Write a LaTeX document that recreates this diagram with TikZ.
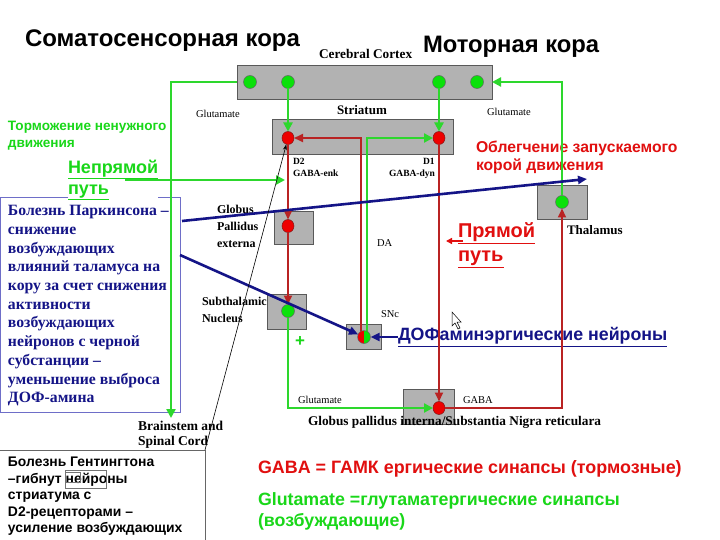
\documentclass[tikz,border=0pt]{standalone}
\usepackage{fontspec}
\setmainfont{Liberation Sans}
\newfontfamily\serifX{Liberation Serif}
\usetikzlibrary{arrows.meta,shapes.geometric}
\definecolor{gbox}{RGB}{178,178,178}
\definecolor{gln}{RGB}{45,215,45}
\definecolor{gdot}{RGB}{10,225,10}
\definecolor{rln}{RGB}{185,35,35}
\definecolor{rdot}{RGB}{238,0,0}
\definecolor{rtxt}{RGB}{225,15,15}
\definecolor{gtxt}{RGB}{25,215,25}
\definecolor{navy}{RGB}{20,20,135}
\definecolor{pbox}{RGB}{110,110,200}
\tikzset{
  every node/.style={inner sep=0pt, outer sep=0pt},
  grbox/.style={draw=black!65, line width=0.6pt, fill=gbox},
  gdotst/.style={circle, minimum size=13pt, fill=gdot, draw=black!60, line width=0.5pt},
  rdotst/.style={ellipse, minimum width=12pt, minimum height=13pt, fill=rdot, draw=rln!70!black, line width=0.5pt},
  gline/.style={draw=gln, line width=2.6pt, -{Triangle[length=9pt,width=9pt]}},
  rline/.style={draw=rln, line width=2pt, -{Triangle[length=9pt,width=8pt]}},
  bline/.style={draw=navy, line width=2.6pt, -{Triangle[length=9pt,width=8pt]}},
  slab/.style={font=\serifX\bfseries\fontsize{13}{15}\selectfont, anchor=base west},
  tlab/.style={font=\serifX\fontsize{10.5}{12}\selectfont, anchor=base west},
  dlab/.style={font=\serifX\bfseries\fontsize{9.5}{11}\selectfont, anchor=base west},
}
\begin{document}
\begin{tikzpicture}[x=1pt,y=-1pt]
\useasboundingbox (0,0) rectangle (720,540);
\fill[white] (0,0) rectangle (720,540);

% ---------- titles
\node[font=\bfseries\fontsize{24}{28}\selectfont, anchor=base west] (t1) at (25,47) {Соматосенсорная кора};
\node[font=\bfseries\fontsize{23.8}{28}\selectfont, anchor=base west] (t2) at (423,53) {Моторная кора};

% ---------- grey boxes
\node[grbox, minimum width=255pt, minimum height=34pt] (ctxB) at (364.5,82) {};
\node[grbox, minimum width=181pt, minimum height=35pt] (strB) at (362.5,136.5) {};
\node[grbox, minimum width=39pt, minimum height=33pt] (gpeB) at (293.5,227.5) {};
\node[grbox, minimum width=39pt, minimum height=35pt] (stnB) at (286.5,311.5) {};
\node[grbox, minimum width=35pt, minimum height=25pt] (sncB) at (363.5,336.5) {};
\node[grbox, minimum width=51pt, minimum height=35pt] (gpiB) at (428.5,406.5) {};
\node[grbox, minimum width=50pt, minimum height=34pt] (thB) at (562,202) {};

% ---------- small labels
\node[slab, font=\serifX\bfseries\fontsize{13.3}{15}\selectfont] (lctx) at (319,59) {Cerebral Cortex};
\node[slab] (lstr) at (337,115) {Striatum};
\node[tlab] (lgl1) at (196,118) {Glutamate};
\node[tlab] (lgl2) at (487,116) {Glutamate};
\node[dlab] (ld2) at (293,165) {D2};
\node[dlab] (lenk) at (293,177) {GABA-enk};
\node[dlab] (ld1) at (423,165) {D1};
\node[dlab] (ldyn) at (389,177) {GABA-dyn};
\node[align=left, anchor=north west, font=\serifX\bfseries\fontsize{12}{17}\selectfont] (lgpe) at (217,205) {Globus\\Pallidus\\externa};
\node[tlab] (lda) at (377,247) {DA};
\node[align=left, anchor=north west, font=\serifX\bfseries\fontsize{12}{17}\selectfont] (lstn) at (202,297) {Subthalamic\\Nucleus};
\node[tlab] (lsnc) at (381,317) {SNc};
\node[font=\bfseries\fontsize{17}{20}\selectfont, text=gtxt] (plus) at (300,342) {+};
\node[tlab] (lgl3) at (298,403) {Glutamate};
\node[tlab] (lgaba) at (463,403) {GABA};
\node[slab, font=\serifX\bfseries\fontsize{13.3}{15}\selectfont] (lgpi) at (308,425) {Globus pallidus interna/Substantia Nigra reticulara};
\node[slab] (lth) at (567,234) {Thalamus};
\node[align=left, anchor=north west, font=\serifX\bfseries\fontsize{13.5}{15.5}\selectfont] (lbs) at (138,421) {Brainstem and\\Spinal Cord};

% ---------- dots
\node[gdotst] (c1) at (250,82) {};
\node[gdotst] (c2) at (288,82) {};
\node[gdotst] (c3) at (439,82) {};
\node[gdotst] (c4) at (477,82) {};
\node[rdotst] (d2) at (288,138) {};
\node[rdotst] (d1) at (439,138) {};
\node[rdotst] (gped) at (288,226) {};
\node[gdotst] (stnd) at (288,311) {};
\node[rdotst] (gpid) at (439,408) {};
\node[gdotst] (thd) at (562,202) {};

% ---------- left text boxes
\draw[pbox, line width=0.8pt] (0,197) rectangle (180,412);
\node[align=left, anchor=north west, text=navy, font=\serifX\bfseries\fontsize{15.7}{18.7}\selectfont] (park) at (8,205.5)
 {Болезнь Паркинсона –\\снижение\\возбуждающих\\влияний таламуса на\\кору за счет снижения\\активности\\возбуждающих\\нейронов с черной\\субстанции –\\уменьшение выброса\\ДОФ-амина};
\node[align=left, anchor=north west, text=gtxt, font=\bfseries\fontsize{13.6}{17}\selectfont] (torm) at (8,121) {Торможение ненужного\\движения};
\node[align=left, anchor=north west, text=gtxt, fill=white, font=\bfseries\fontsize{18}{21}\selectfont] (indir) at (68,160) {\underline{Непрямой}\\\underline{путь}};

\draw[black!60, line width=0.6pt] (0,450) -- (205,450) -- (205,560);
\node[align=left, anchor=north west, font=\bfseries\fontsize{13.9}{16.5}\selectfont] (hunt) at (8,457)
 {Болезнь Гентингтона\\–гибнут нейроны\\стриатума с\\D2-рецепторами –\\усиление возбуждающих};
\draw[black!55, line width=0.4pt] (65,470) rectangle (106,488);
\draw[black!55, line width=0.4pt] (65,472) rectangle (80,482);

% ---------- right texts
\node[align=left, anchor=north west, text=rtxt, font=\bfseries\fontsize{15.7}{18}\selectfont] (obl) at (476,141) {Облегчение запускаемого\\корой движения};
\node[align=left, anchor=north west, text=rtxt, font=\bfseries\fontsize{20}{24}\selectfont] (dir) at (458,223) {\underline{Прямой}\\\underline{путь}};
\node[anchor=west, text=navy, font=\bfseries\fontsize{17.8}{20}\selectfont] (dofa) at (398,337) {\underline{ДОФаминэргические нейроны}};
\node[anchor=base west, text=rtxt, font=\bfseries\fontsize{17.9}{21}\selectfont] (leg1) at (258,473) {GABA = ГАМК ергические синапсы (тормозные)};
\node[align=left, anchor=north west, text=gtxt, font=\bfseries\fontsize{17.8}{21}\selectfont] (leg2) at (258,493) {Glutamate =глутаматергические синапсы\\(возбуждающие)};

% ---------- connectors
\coordinate (bs) at (171,418);
\draw[gline] (ctxB.west) -| (bs);
\draw[gline] (c2) -- (d2);
\draw[gline] (c3) -- (d1);
\draw[gline] (thd) |- (ctxB.east);
\draw[rline] (d2) -- (gped);
\draw[rline] (gped) -- (stnd);
\draw[gline] (stnd) |- (gpid);
\draw[rline] (d1) -- (gpid);
\draw[rline] (gpid) -| (thd);
\coordinate (snR) at (361,334);
\coordinate (snG) at (367,334);
\draw[rline] (snR) |- (d2);
\draw[gline] (snG) |- (d1);
\coordinate (ip1) at (125,180);
\coordinate (ip2) at (285,180);
\draw[gline] (ip1) -- (ip2);
\coordinate (da1) at (463,241);
\coordinate (da2) at (446,241);
\draw[draw=rtxt, line width=1.6pt, -{Triangle[length=6pt,width=6pt]}] (da1) -- (da2);

% SNc half dot
\node[circle, minimum size=13pt, draw=black!60, line width=0.5pt,
  path picture={\fill[rdot] (path picture bounding box.south west) rectangle (path picture bounding box.north);
                \fill[gdot] (path picture bounding box.south) rectangle (path picture bounding box.north east);}] (snd) at (364,337) {};

% blue arrows
\coordinate (pk1) at (182,221);
\coordinate (bl1) at (587,179);
\coordinate (pk2) at (180,255);
\draw[bline] (pk1) -- (bl1);
\draw[bline] (pk2) -- (snd);
\draw[bline] (dofa.west) -- (snd);

% thin black arrow
\coordinate (hb) at (205,450);
\draw[black, line width=0.6pt, -{Stealth[length=6pt,width=4pt]}] (hb) -- (d2);

% mouse cursor
\draw[black, fill=white, line width=0.5pt] (452,312) -- (452,326) -- (455,323) -- (458,329) -- (460,328) -- (457,322) -- (461,322) -- cycle;
\end{tikzpicture}
\end{document}
